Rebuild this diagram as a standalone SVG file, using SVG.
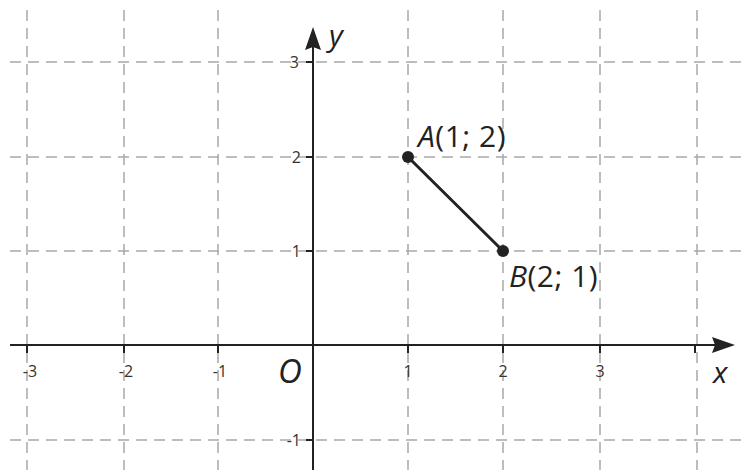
<svg xmlns="http://www.w3.org/2000/svg" width="746" height="470" viewBox="0 0 746 470">
<style>
.grid{stroke:#a8a8a8;stroke-width:1.5;stroke-dasharray:11 7;fill:none}
.axis{stroke:#222;stroke-width:2;fill:none}
.tick{font-family:"Open Sans","DejaVu Sans",sans-serif;font-size:16px;fill:#333}
.lbl{font-family:"Open Sans","DejaVu Sans",sans-serif;font-size:30px;fill:#222}
.it{font-style:italic}
</style>
<rect width="746" height="470" fill="#fff"/>
<g id="grid">
<path class="grid" d="M27,10V470M124,10V470M218,10V470M408,10V470M503,10V470M600,10V470M697,10V470"/>
<path class="grid" d="M10,62H746M10,157H746M10,251H746M10,440H746"/>
</g>
<g id="connectors">
<line class="axis" x1="10" y1="345" x2="722" y2="345"/>
<path d="M735,345 L712,337 L715,345 L712,353 Z" fill="#222"/>
<line class="axis" x1="313" y1="470" x2="313" y2="45"/>
<path d="M313,27 L305,50 L313,47 L321,50 Z" fill="#222"/>
<path class="axis" d="M27,345v8M124,345v8M218,345v8M408,345v8M503,345v8M600,345v8M695,345v8M306,62h7M306,157h7M306,251h7M306,440h7"/>
<line id="AB" x1="408" y1="157" x2="503" y2="251" stroke="#222" stroke-width="3"/>
</g>
<g id="labels">
<text class="tick" x="30" y="377" text-anchor="middle">-3</text>
<text class="tick" x="126" y="377" text-anchor="middle">-2</text>
<text class="tick" x="220" y="377" text-anchor="middle">-1</text>
<text class="tick" x="408" y="377" text-anchor="middle">1</text>
<text class="tick" x="503" y="377" text-anchor="middle">2</text>
<text class="tick" x="600" y="377" text-anchor="middle">3</text>
<text class="tick" x="299" y="68" text-anchor="end">3</text>
<text class="tick" x="301" y="163" text-anchor="end">2</text>
<text class="tick" x="301" y="257" text-anchor="end">1</text>
<text class="tick" x="301" y="446" text-anchor="end">-1</text>
<text class="lbl it" x="278" y="383" style="font-size:33px">O</text>
<text class="lbl it" x="713" y="383">x</text>
<text class="lbl it" x="329" y="46">y</text>
</g>
<g id="pointA">
<circle cx="408" cy="157" r="6" fill="#222"/>
<text class="lbl" x="418" y="147" letter-spacing="0.5"><tspan class="it">A</tspan>(1; 2)</text>
</g>
<g id="pointB">
<circle cx="503" cy="251" r="6" fill="#222"/>
<text class="lbl" x="509" y="287" letter-spacing="0.5"><tspan class="it">B</tspan>(2; 1)</text>
</g>
</svg>
